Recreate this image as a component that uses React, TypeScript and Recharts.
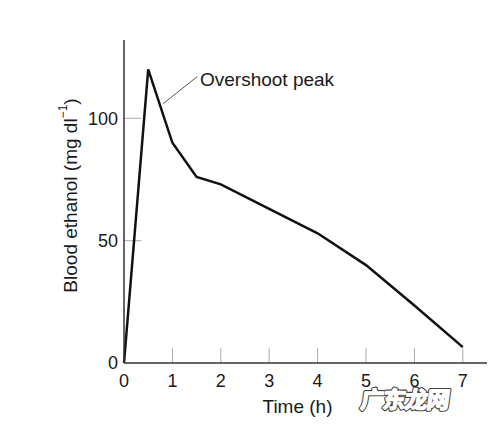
import React from "react";
import { LineChart, Line, XAxis, YAxis, ReferenceLine, ReferenceDot, Label } from "recharts";

const times = [0, 0.5, 1, 1.5, 2, 3, 4, 5, 6, 7];
const ethanol = [0, 120, 90, 76, 73, 63, 53, 40, 23.5, 6.5];
const xTicks = [0, 1, 2, 3, 4, 5, 6, 7];
const yTicks = [0, 50, 100];

const data = times.map((t, i) => ({ t, v: ethanol[i] }));

const FONT = "'Liberation Sans', Arial, Helvetica, sans-serif";
const INK = "#1a1a1a";

const markStyle = {
  fontSize: 23,
  fontWeight: 700,
  fontFamily: "'Noto Sans CJK SC', sans-serif",
  letterSpacing: -1,
};

export default function App() {
  return (
    <div style={{ position: "absolute", left: 0, top: 0, width: 495, height: 429, background: "#fff" }}>
      <LineChart
        width={495}
        height={429}
        data={data}
        margin={{ top: 40, right: 8, left: 4, bottom: 6 }}
      >
        <XAxis
          dataKey="t"
          type="number"
          domain={[0, 7.5]}
          ticks={xTicks}
          height={60}
          tickSize={0}
          tickMargin={11}
          tickLine={false}
          axisLine={{ stroke: "#333", strokeWidth: 1.5 }}
          tick={{ fontSize: 18, fill: INK, fontFamily: FONT }}
        >
          <Label
            value="Time (h)"
            position="insideBottom"
            offset={10}
            dx={-8}
            style={{ fontSize: 19, fill: INK, fontFamily: FONT }}
          />
        </XAxis>
        <YAxis
          type="number"
          domain={[0, 132]}
          ticks={yTicks}
          width={120}
          tickSize={0}
          tickMargin={6}
          tickLine={false}
          axisLine={{ stroke: "#333", strokeWidth: 1.5 }}
          tick={{ fontSize: 18, fill: INK, fontFamily: FONT }}
          label={{
            content: (props: any) => {
              const vb = props.viewBox || { x: 4, y: 40, width: 120, height: 323 };
              const cx = vb.x + 66;
              const cy = vb.y + vb.height / 2 - 6;
              return (
                <text
                  x={cx}
                  y={cy}
                  transform={`rotate(-90 ${cx} ${cy})`}
                  textAnchor="middle"
                  dominantBaseline="central"
                  style={{ fontSize: 19, fill: INK, fontFamily: FONT }}
                >
                  Blood ethanol (mg dl
                  <tspan dy={-7} style={{ fontSize: 12 }}>−1</tspan>
                  <tspan dy={7}>)</tspan>
                </text>
              );
            },
          }}
        />
        {xTicks.slice(1).map((t) => (
          <ReferenceLine
            key={"xt" + t}
            segment={[{ x: t, y: 0 }, { x: t, y: 6 }]}
            stroke="#aaa"
            strokeWidth={1}
          />
        ))}
        {yTicks.slice(1).map((v) => (
          <ReferenceLine
            key={"yt" + v}
            segment={[{ x: 0, y: v }, { x: 0.36, y: v }]}
            stroke="#aaa"
            strokeWidth={1}
          />
        ))}
        <ReferenceLine
          segment={[{ x: 0.81, y: 106 }, { x: 1.51, y: 117 }]}
          stroke="#555"
          strokeWidth={1}
        />
        <ReferenceDot
          x={1.57}
          y={113}
          r={0}
          shape={(p: any) => (
            <text x={p.cx} y={p.cy} style={{ fontSize: 19, fill: INK, fontFamily: FONT }}>
              Overshoot peak
            </text>
          )}
        />
        <Line
          type="linear"
          dataKey="v"
          stroke="#111"
          strokeWidth={2.5}
          dot={false}
          isAnimationActive={false}
        />
      </LineChart>
      <svg
        width={495}
        height={429}
        style={{ position: "absolute", left: 0, top: 0, pointerEvents: "none" }}
      >
        <g transform="skewX(-8) translate(57 0)">
          {/* watermark: dark outline first, then a white fattened fill over it */}
          <text x={360} y={408} style={{ ...markStyle, fill: "#444", stroke: "#444", strokeWidth: 3.6, strokeLinejoin: "round" }}>
            广东龙网
          </text>
          <text x={360} y={408} style={{ ...markStyle, fill: "#fff", stroke: "#fff", strokeWidth: 1.4, strokeLinejoin: "round" }}>
            广东龙网
          </text>
        </g>
      </svg>
    </div>
  );
}
